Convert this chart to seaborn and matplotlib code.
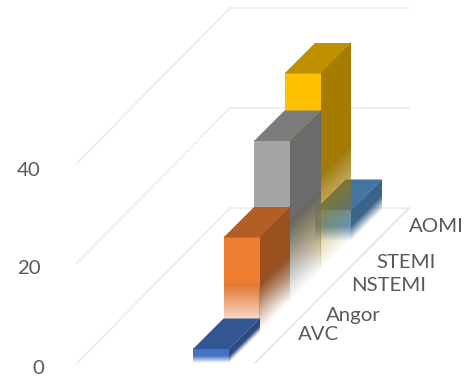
import numpy as np
import pandas as pd
import matplotlib
matplotlib.use("Agg")
import matplotlib.pyplot as plt
from matplotlib.colors import to_rgb
from matplotlib.patches import Polygon
from matplotlib.transforms import Affine2D
import seaborn as sns

# Chart data
categories = ["AVC", "Angor", "NSTEMI", "STEMI", "AOMI"]
values = [2.8, 19, 32.2, 39.6, 6.2]
colors = ["#4472C4", "#ED7D31", "#A5A5A5", "#FFC000", "#5B9BD5"]
y_ticks = [0, 20, 40]

sns.set_theme(style="white")
plt.rcParams["font.family"] = ["Lato", "DejaVu Sans"]

W, H = 469, 376
DPI = 100
fig = plt.figure(figsize=(W / DPI, H / DPI), dpi=DPI)
ax = fig.add_axes([0, 0, 1, 1])

df = pd.DataFrame({"category": categories, "value": values})
sns.barplot(data=df, x="category", y="value", hue="category", order=categories,
            hue_order=categories, palette=colors, saturation=1, width=1.18,
            legend=False, ax=ax)

# Oblique projection: one series step moves right and up by the same pixel amount
PX_X, PX_Y = 30.5, 5.0          # pixels per category step / per value unit
ORIGIN_X, ORIGIN_Y = 211, 363   # pixel position of the first bar's base
DEPTH_X = 1.0                   # depth of a bar along x, in category steps
DEPTH_Y = PX_X / PX_Y           # same depth along y, in value units
WALL_Y = 31.0                   # depth of the floor along y

ax.set_xlim(-ORIGIN_X / PX_X, (W - ORIGIN_X) / PX_X)
ax.set_ylim((ORIGIN_Y - H) / PX_Y, ORIGIN_Y / PX_Y)
ax.axis("off")

# Gridlines on the back wall and side wall, plus the floor's front edge
GRID = "#EFEFEF"
back_l, back_r, side_l, front_r = 0.62, 6.49, -4.39, 1.44
for v in y_ticks:
    ax.plot([side_l, back_l, back_r], [v, v + WALL_Y, v + WALL_Y],
            color=GRID, lw=1.5, zorder=1, solid_joinstyle="miter")
ax.plot([front_r, back_r], [0, WALL_Y], color="#E4E4E4", lw=1.2, zorder=1)


def fade_image(rgb, n=256):
    """Vertical ramp: solid in the upper half, dissolving towards the base."""
    t = np.linspace(0, 1, n)
    alpha = np.clip(t / 0.5, 0, 1)
    shade = np.where(t < 0.5, 0.95, 1.0)
    img = np.zeros((n, 2, 4))
    img[..., :3] = (np.array(rgb)[None, :] * shade[:, None])[:, None, :]
    img[..., 3] = alpha[:, None]
    return img


# Extrude every bar into a box, back series drawn first
for i, patch in enumerate(ax.patches):
    z = 10 + (len(categories) - i) * 2
    rgb = np.array(to_rgb(colors[i]))
    xl, w, h = patch.get_x(), patch.get_width(), patch.get_height()
    base = i * DEPTH_Y
    patch.set_y(base)
    patch.set_facecolor("none")
    patch.set_edgecolor("none")
    xr = xl + w

    side = ax.imshow(fade_image(rgb * 0.65), origin="lower", extent=(0, 1, 0, 1),
                     aspect="auto", interpolation="bilinear", zorder=z)
    side.set_transform(Affine2D(np.array([[DEPTH_X, 0, xr],
                                          [DEPTH_Y, h, base],
                                          [0, 0, 1.0]])) + ax.transData)

    front = ax.imshow(fade_image(rgb), origin="lower", extent=(0, 1, 0, 1),
                      aspect="auto", interpolation="bilinear", zorder=z + 1)
    front.set_transform(Affine2D(np.array([[w, 0, xl],
                                           [0, h, base],
                                           [0, 0, 1.0]])) + ax.transData)

    top = base + h
    ax.add_patch(Polygon([(xl, top), (xr, top),
                          (xr + DEPTH_X, top + DEPTH_Y), (xl + DEPTH_X, top + DEPTH_Y)],
                         closed=True, facecolor=rgb * 0.75, edgecolor="none", zorder=z + 1))

ax.set_xlim(-ORIGIN_X / PX_X, (W - ORIGIN_X) / PX_X)
ax.set_ylim((ORIGIN_Y - H) / PX_Y, ORIGIN_Y / PX_Y)

# Value labels and series labels, placed on their baselines in figure pixels
TEXT = "#595959"
FS = 14.7
for v in y_ticks:
    right = 44 if v == 0 else 40.5
    fig.text(right / W, 1 - (373.5 - v * PX_Y * 0.99) / H, str(v), ha="right", va="baseline",
             color=TEXT, fontsize=FS)

label_px = [(318.5, 340), (353.5, 321), (389, 291), (406.5, 268), (436.5, 232)]
for name, (px, py) in zip(categories, label_px):
    fig.text(px / W, 1 - py / H, name, ha="center", va="baseline", color=TEXT, fontsize=FS)

fig.savefig("out.png", dpi=DPI)
